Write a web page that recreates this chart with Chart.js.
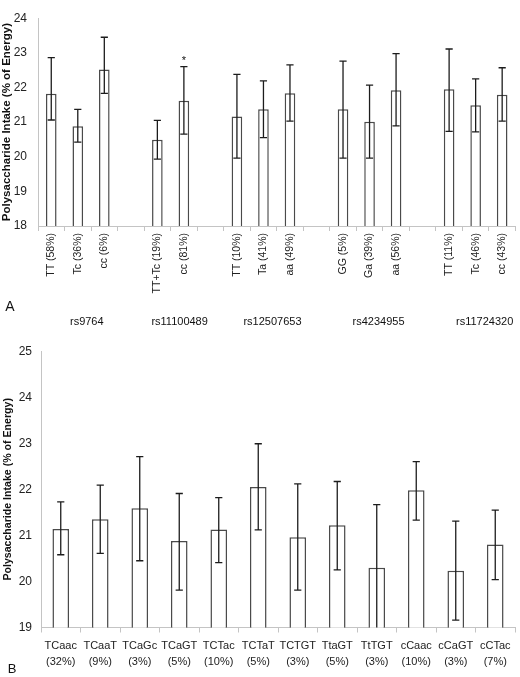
<!DOCTYPE html>
<html>
<head>
<meta charset="utf-8">
<title>Polysaccharide intake by genotype and haplotype</title>
<script src="https://cdn.jsdelivr.net/npm/chart.js@4.4.1/dist/chart.umd.min.js"></script>
<style>
  body { margin: 0; background: #fff; }
  #wrapA { position: absolute; left: 0; top: 0; width: 520px; height: 335px; }
  #wrapB { position: absolute; left: 0; top: 335px; width: 520px; height: 342px; }
</style>
</head>
<body>
<div id="wrapA"><canvas id="chartA" width="520" height="335"></canvas></div>
<div id="wrapB"><canvas id="chartB" width="520" height="342"></canvas></div>
<script>
// Panel A - single SNP genotypes (empty entries are the gaps between SNPs)
const genotypes = ["TT (58%)", "Tc (36%)", "cc (6%)", "",
  "TT+Tc (19%)", "cc (81%)", "",
  "TT (10%)", "Ta (41%)", "aa (49%)", "",
  "GG (5%)", "Ga (39%)", "aa (56%)", "",
  "TT (11%)", "Tc (46%)", "cc (43%)"];
const meanA  = [21.82, 20.88, 22.52, null, 20.49, 21.62, null, 21.16, 21.37, 21.83, null, 21.37, 21.01, 21.92, null, 21.95, 21.49, 21.79];
const upperA = [22.86, 21.37, 23.45, null, 21.05, 22.60, null, 22.38, 22.19, 22.65, null, 22.76, 22.07, 22.98, null, 23.11, 22.25, 22.57];
const lowerA = [21.06, 20.42, 21.83, null, 19.93, 20.65, null, 19.96, 20.55, 21.03, null, 19.96, 19.96, 20.89, null, 20.73, 20.72, 21.03];
const snpNames = ["rs9764", "rs11100489", "rs12507653", "rs4234955", "rs11724320"];
const snpFirst = [0, 4, 7, 11, 15];
const snpLast  = [2, 5, 9, 13, 17];
const starredA = [5];
const ticksA = [18, 19, 20, 21, 22, 23, 24];

// Panel B - haplotypes
const haplotypes = [["TCaac", "(32%)"], ["TCaaT", "(9%)"], ["TCaGc", "(3%)"], ["TCaGT", "(5%)"],
  ["TCTac", "(10%)"], ["TCTaT", "(5%)"], ["TCTGT", "(3%)"], ["TtaGT", "(5%)"],
  ["TtTGT", "(3%)"], ["cCaac", "(10%)"], ["cCaGT", "(3%)"], ["cCTac", "(7%)"]];
const meanB  = [21.14, 21.35, 21.59, 20.88, 21.13, 22.05, 20.96, 21.22, 20.30, 21.98, 20.23, 20.80];
const upperB = [21.73, 22.09, 22.71, 21.91, 21.82, 22.99, 22.12, 22.17, 21.67, 22.60, 21.31, 21.55];
const lowerB = [20.58, 20.61, 20.45, 19.81, 20.41, 21.12, 19.81, 20.25, 18.93, 21.33, 19.16, 20.04];
const ticksB = [19, 20, 21, 22, 23, 24, 25];

const yTitle = "Polysaccharide Intake (% of Energy)";

Chart.defaults.font.family = "'Liberation Sans', Arial, sans-serif";
Chart.defaults.animation = false;

// whiskers drawn from the y scale
const errorBars = {
  id: 'errorBars',
  afterDatasetsDraw(chart, args, opts) {
    const { ctx, chartArea, scales: { y } } = chart;
    const meta = chart.getDatasetMeta(0);
    ctx.save();
    ctx.beginPath();
    ctx.rect(chartArea.left, chartArea.top - 2, chartArea.width, chartArea.height + 2);
    ctx.clip();
    ctx.strokeStyle = '#1c1c1c';
    ctx.lineWidth = 1.3;
    meta.data.forEach((bar, i) => {
      const lo = opts.lower[i], hi = opts.upper[i];
      if (lo == null) return;
      const yl = y.getPixelForValue(lo), yh = y.getPixelForValue(hi);
      ctx.beginPath();
      ctx.moveTo(bar.x, yl); ctx.lineTo(bar.x, yh);
      ctx.moveTo(bar.x - opts.cap, yh); ctx.lineTo(bar.x + opts.cap, yh);
      if (lo >= y.min) { ctx.moveTo(bar.x - opts.cap, yl); ctx.lineTo(bar.x + opts.cap, yl); }
      ctx.stroke();
    });
    ctx.restore();
  }
};

// SNP names, panel letter and significance star
const extraText = {
  id: 'extraText',
  afterDraw(chart, args, opts) {
    const { ctx, scales: { x, y } } = chart;
    ctx.save();
    ctx.fillStyle = '#111';
    ctx.textAlign = 'center';
    ctx.textBaseline = 'middle';
    if (opts.groups) {
      ctx.font = "11px 'Liberation Sans', Arial, sans-serif";
      opts.groups.names.forEach((name, g) => {
        const cx = (x.getPixelForValue(opts.groups.first[g]) + x.getPixelForValue(opts.groups.last[g])) / 2 + 9;
        ctx.fillText(name, cx, opts.groups.y);
      });
    }
    if (opts.stars) {
      ctx.font = "11px 'Liberation Sans', Arial, sans-serif";
      ctx.textBaseline = 'alphabetic';
      opts.stars.forEach(i => {
        ctx.fillText('*', x.getPixelForValue(i), y.getPixelForValue(opts.upper[i]) - 3);
      });
    }
    ctx.textBaseline = 'middle';
    ctx.font = opts.letterSize + "px 'Liberation Sans', Arial, sans-serif";
    ctx.fillText(opts.letter, opts.letterX, opts.letterY);
    ctx.restore();
  }
};

function makeChart(id, labels, mean, lower, upper, cfg) {
  return new Chart(document.getElementById(id), {
    type: 'bar',
    data: {
      labels: labels,
      datasets: [{
        data: mean,
        backgroundColor: '#ffffff',
        borderColor: '#4a4a4a',
        borderWidth: 1.5,
        borderSkipped: false,
        categoryPercentage: 1,
        barPercentage: cfg.barPct,
      }],
    },
    options: {
      responsive: false,
      layout: { padding: { left: 0, right: cfg.padRight, top: cfg.padTop, bottom: 0 } },
      scales: {
        x: {
          ticks: {
            autoSkip: false,
            minRotation: cfg.rotation, maxRotation: cfg.rotation,
            padding: cfg.xPad, color: '#222',
            font: { size: cfg.xFont, lineHeight: 1.5 },
          },
          grid: { drawOnChartArea: false, drawTicks: true, tickLength: 5, color: '#c4c4c4', offset: true },
          border: { color: '#c4c4c4' },
          afterFit: s => { s.height = cfg.xHeight; },
        },
        y: {
          min: cfg.ticks[0], max: cfg.ticks[cfg.ticks.length - 1],
          afterBuildTicks: s => { s.ticks = cfg.ticks.map(v => ({ value: v })); },
          ticks: { padding: cfg.yPad, color: '#222', font: { size: 12 } },
          grid: { drawOnChartArea: false, drawTicks: false },
          border: { color: '#c4c4c4' },
          title: {
            display: true, text: yTitle, color: '#111',
            font: { size: cfg.titleFont, weight: 'bold' },
            padding: { top: cfg.titlePad, bottom: 0 },
          },
          afterFit: s => { s.width = cfg.yWidth; },
        },
      },
      plugins: {
        legend: { display: false },
        tooltip: { enabled: false },
        errorBars: { lower: lower, upper: upper, cap: 3.6 },
        extraText: cfg.text,
      },
    },
    plugins: [errorBars, extraText],
  });
}

makeChart('chartA', genotypes, meanA, lowerA, upperA, {
  barPct: 0.4, padRight: 3, padTop: 6, rotation: 90, xPad: 2, xFont: 10.5, xHeight: 109,
  ticks: ticksA, yPad: 11, titleFont: 11.5, titlePad: 0, yWidth: 38,
  text: {
    groups: { names: snpNames, first: snpFirst, last: snpLast, y: 322 },
    stars: starredA, upper: upperA,
    letter: 'A', letterSize: 14, letterX: 10, letterY: 307,
  },
});

makeChart('chartB', haplotypes, meanB, lowerB, upperB, {
  barPct: 0.42, padRight: 5, padTop: 7.3, rotation: 0, xPad: 5, xFont: 11, xHeight: 49.5,
  ticks: ticksB, yPad: 9, titleFont: 10.6, titlePad: 2, yWidth: 41,
  text: { letter: 'B', letterSize: 13, letterX: 12, letterY: 334 },
});
</script>
</body>
</html>
